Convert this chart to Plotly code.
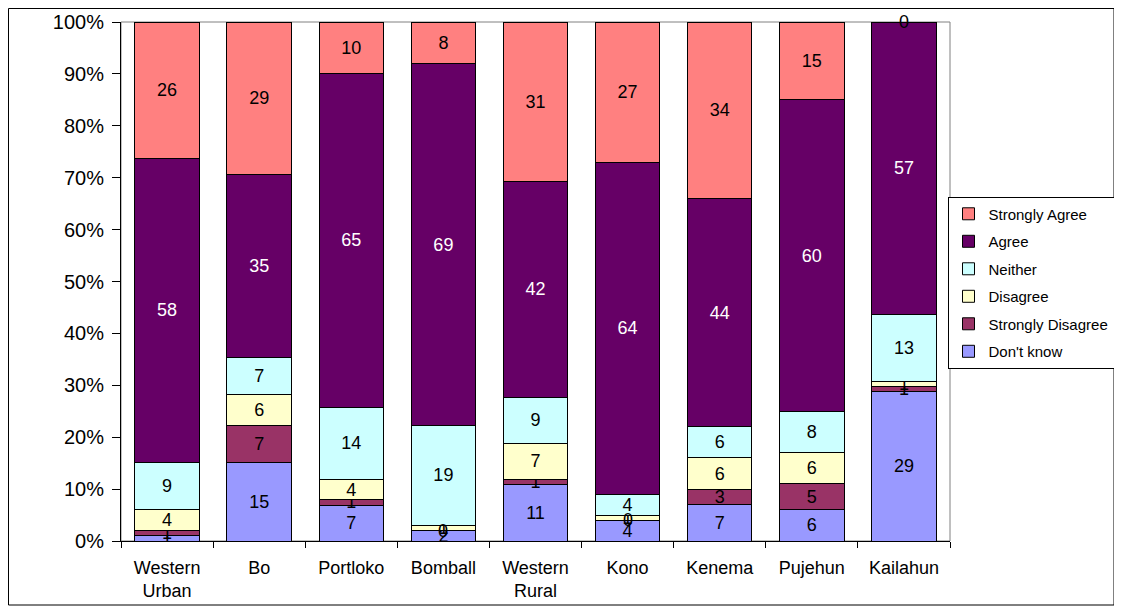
import plotly.graph_objects as go

districts = ["Western<br>Urban", "Bo", "Portloko", "Bomball", "Western<br>Rural",
             "Kono", "Kenema", "Pujehun", "Kailahun"]

# counts per response, bottom of stack first
dont_know = [1, 15, 7, 2, 11, 4, 7, 6, 29]
strongly_disagree = [1, 7, 1, 0, 1, 0, 3, 5, 1]
disagree = [4, 6, 4, 1, 7, 1, 6, 6, 1]
neither = [9, 7, 14, 19, 9, 4, 6, 8, 13]
agree = [58, 35, 65, 69, 42, 64, 44, 60, 57]
strongly_agree = [26, 29, 10, 8, 31, 27, 34, 15, 0]

series = [
    ("Don't know", dont_know, "#9999FF", "black"),
    ("Strongly Disagree", strongly_disagree, "#993366", "black"),
    ("Disagree", disagree, "#FFFFCC", "black"),
    ("Neither", neither, "#CCFFFF", "black"),
    ("Agree", agree, "#660066", "white"),
    ("Strongly Agree", strongly_agree, "#FF8080", "black"),
]

totals = [sum(s[1][i] for s in series) for i in range(len(districts))]

fig = go.Figure()
cum = [0] * len(districts)
for rank, (name, vals, col, tcol) in enumerate(series):
    fig.add_trace(go.Bar(
        x=districts, y=vals, name=name, legendgroup=name,
        legendrank=len(series) - rank,
        marker=dict(color=col, line=dict(color="black", width=1)),
        text=[str(v) for v in vals], textposition="inside",
        insidetextanchor="middle", textangle=0,
        textfont=dict(color=tcol, size=18, family="Liberation Sans"),
    ))
    # plotly skips text on zero-height segments, so label those by hand
    for i, v in enumerate(vals):
        if v == 0:
            fig.add_annotation(x=districts[i], y=cum[i] * 100 / totals[i],
                               text="0", showarrow=False, yanchor="middle",
                               font=dict(color=tcol, size=18))
        cum[i] += v

# page body has an 8px margin, so the figure is sized to fit inside the window
W, H = 1114, 603
L, R, T, B = 113, 172, 14, 70
pw, ph = W - L - R, H - T - B

fig.update_layout(
    barmode="stack", barnorm="percent", bargap=0.3,
    width=W, height=H,
    margin=dict(l=L, r=R, t=T, b=B, autoexpand=False),
    paper_bgcolor="white", plot_bgcolor="white",
    font=dict(family="Liberation Sans", color="black", size=18),
    uniformtext=dict(minsize=18, mode="show"),
    legend=dict(x=0.997, xanchor="left", y=0.498, yanchor="middle",
                traceorder="grouped", tracegroupgap=5,
                bordercolor="black", borderwidth=1, font=dict(size=15),
                itemwidth=30),
    showlegend=True,
)
fig.update_yaxes(range=[0, 100], dtick=10, ticksuffix="%", ticks="outside",
                 ticklen=8, tickcolor="black", showline=True, linecolor="black",
                 showgrid=False, zeroline=False, tickfont=dict(size=20),
                 ticklabelstandoff=4)
fig.update_xaxes(ticks="outside", tickson="boundaries", ticklen=6,
                 tickcolor="black", showline=True, linecolor="black",
                 showgrid=False, tickfont=dict(size=18), ticklabelstandoff=10)

# grey plot frame and outer chart border
fig.add_shape(type="rect", xref="paper", yref="paper", x0=0, x1=1, y0=0, y1=1,
              line=dict(color="#808080", width=1), layer="below")
fig.add_shape(type="rect", xref="paper", yref="paper",
              x0=(0.5 - L) / pw, x1=(W - 8 - L) / pw,
              y0=(T + ph - (H - 6)) / ph, y1=(T + ph - 0.5) / ph,
              line=dict(color="black", width=1), layer="below")

fig.write_html("out.html")
